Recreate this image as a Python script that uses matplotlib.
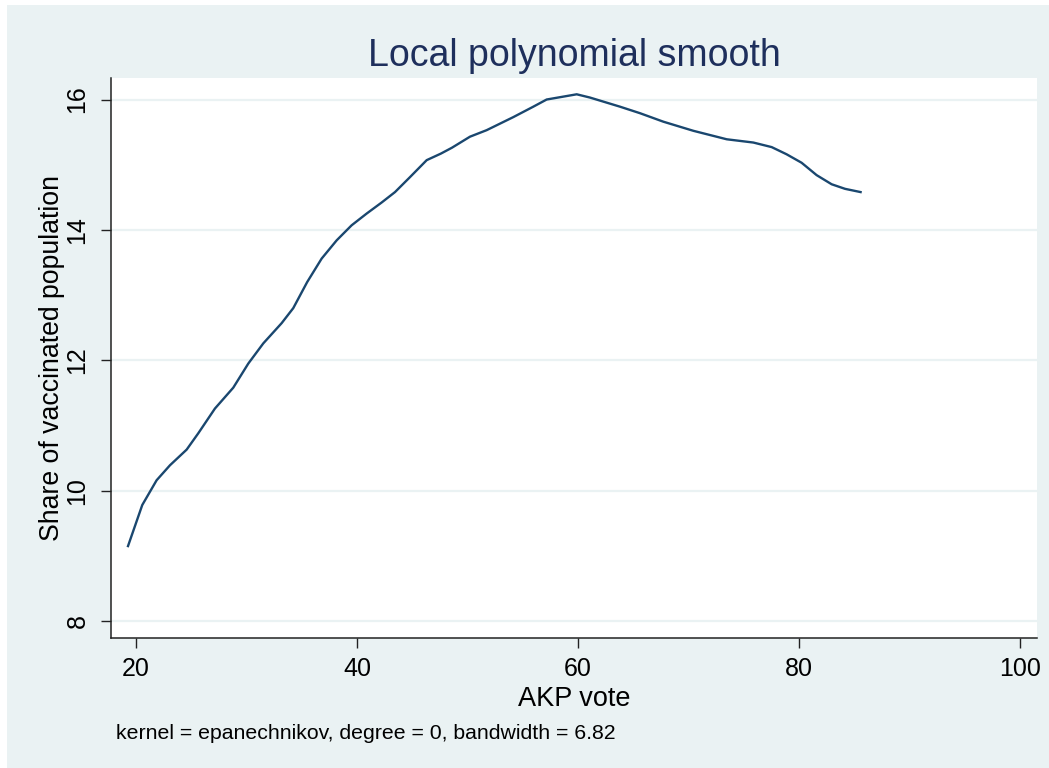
import matplotlib
matplotlib.use("Agg")
import matplotlib.pyplot as plt
from matplotlib.patches import Rectangle

# Data
akp_vote = [19.28, 20.57, 21.87, 23.08, 24.59, 25.64, 27.15, 28.81, 30.17, 31.53,
            33.19, 34.24, 35.5, 36.81, 38.17, 39.52, 40.88, 42.24, 43.45, 44.81,
            46.32, 47.6, 48.6, 50.24, 51.75, 54.16, 55.97, 57.18, 59.9, 61.1,
            63.82, 65.63, 67.74, 70.46, 73.48, 75.89, 77.55, 78.9, 80.26, 81.62,
            82.98, 84.19, 85.6]
vacc_share = [9.15, 9.78, 10.16, 10.39, 10.63, 10.88, 11.26, 11.58, 11.95, 12.26,
              12.57, 12.80, 13.20, 13.56, 13.84, 14.07, 14.25, 14.42, 14.58, 14.81,
              15.07, 15.17, 15.26, 15.43, 15.53, 15.73, 15.89, 16.0, 16.08, 16.03,
              15.89, 15.79, 15.66, 15.52, 15.39, 15.34, 15.27, 15.16, 15.03, 14.84,
              14.70, 14.63, 14.58]
x_ticks = [20, 40, 60, 80, 100]
y_ticks = [8, 10, 12, 14, 16]

title = "Local polynomial smooth"
xlabel = "AKP vote"
ylabel = "Share of vaccinated population"
note = "kernel = epanechnikov, degree = 0, bandwidth = 6.82"

BG = "#EAF2F3"
LINE = "#1A476F"
TITLE_C = "#1E2F5C"
FONT = "Liberation Sans"

plt.rcParams['font.family'] = [FONT, 'DejaVu Sans']

W, H = 1049, 768
fig = plt.figure(figsize=(W / 100, H / 100), dpi=100, facecolor="white")
fig.patches.append(Rectangle((7 / W, 0), 1 - 7 / W, 1 - 5 / H, transform=fig.transFigure,
                             facecolor=BG, edgecolor="none", zorder=-10))

ax = fig.add_axes([111 / W, 1 - 638 / H, (1037 - 111) / W, (638 - 78) / H])
ax.set_facecolor("white")
ax.plot(akp_vote, vacc_share, color=LINE, lw=1.7, solid_joinstyle="miter", zorder=3)

ax.set_xlim(17.74, 101.57)
ax.set_ylim(7.74, 16.33)
ax.set_xticks(x_ticks)
ax.set_yticks(y_ticks)
ax.grid(axis="y", color=BG, lw=1.6, zorder=1)
ax.set_axisbelow(True)

for s in ["top", "right"]:
    ax.spines[s].set_visible(False)
for s in ["left", "bottom"]:
    ax.spines[s].set_color("#222222")
    ax.spines[s].set_linewidth(1.1)

ax.tick_params(axis="both", direction="out", length=7.5, width=1.0, color="#222222",
               labelsize=18, labelcolor="black")
ax.tick_params(axis="x", pad=6)
ax.tick_params(axis="y", pad=8)
for lab in ax.get_yticklabels():
    lab.set_rotation(90)
    lab.set_va("center")

ax.set_xlabel(xlabel, fontsize=19.5, labelpad=4, color="black")
ax.set_ylabel(ylabel, fontsize=19.2, labelpad=0, color="black")
ax.set_title(title, fontsize=27, color=TITLE_C, pad=9)

fig.text(116 / W, 1 - 739 / H, note, fontsize=15.3, ha="left", va="baseline", color="black")

fig.savefig("out.png", dpi=100, facecolor="white")
